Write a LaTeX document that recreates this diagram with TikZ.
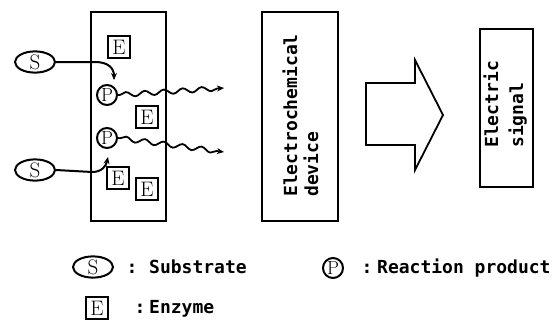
\documentclass[tikz,border=0pt]{standalone}
\usepackage{fontspec}
\newfontfamily\dotfont{DejaVu Sans Mono}
\usetikzlibrary{shapes.geometric,arrows.meta,decorations.pathmorphing}
\begin{document}
\begin{tikzpicture}[x=1pt,y=-1pt,
  box/.style={draw, line width=2.8pt, inner sep=0pt},
  lbl/.style={font=\dotfont\bfseries\fontsize{18}{22}\selectfont, inner sep=0pt},
  vlbl/.style={lbl, rotate=90, anchor=base west},
  sub/.style={draw, ellipse, line width=2pt, minimum width=40pt, minimum height=19pt, inner sep=0pt, font=\fontsize{21}{21}\selectfont},
  prod/.style={draw, circle, line width=2pt, minimum size=20pt, inner sep=0pt, font=\fontsize{19}{19}\selectfont},
  enz/.style={draw, line width=2pt, minimum size=22pt, inner sep=0pt, font=\fontsize{21}{21}\selectfont},
  conn/.style={line width=2pt, -{Stealth[length=7pt,width=6pt]}},
  wave/.style={line width=1.8pt, -{Stealth[length=7pt,width=6pt]}, decorate,
    decoration={snake, amplitude=2.4pt, segment length=19pt, post length=6pt, pre length=2pt}},
  bigarrow/.style={draw, line width=1.8pt, line join=miter}
]
\useasboundingbox (0,0) rectangle (552,322);

% boxes
\node[box, minimum width=75pt, minimum height=209pt] (cell) at (128.5,116.5) {};
\node[box, minimum width=76pt, minimum height=209pt] (dev) at (300,116.5) {};
\node[box, minimum width=53pt, minimum height=158pt] (sig) at (506.5,108) {};

% texts in boxes
\node[vlbl] (dev1) at (297,197) {Electrochemical};
\node[vlbl] (dev2) at (318,197) {device};
\node[vlbl] (sig1) at (498,148) {Electric};
\node[vlbl] (sig2) at (523,148) {signal};

% big arrow
\draw[bigarrow] (366,83) -- (415,83) -- (415,60) -- (443,115) -- (415,170)
  -- (415,145) -- (366,145) -- cycle;

% substrates, products, enzymes
\node[sub] (s1) at (35,62) {S};
\node[sub] (s2) at (35,170) {S};
\node[prod] (p1) at (107,95) {P};
\node[prod] (p2) at (107,138) {P};
\node[enz] (e1) at (119,47) {E};
\node[enz] (e2) at (147,117) {E};
\node[enz] (e3) at (118,178) {E};
\node[enz] (e4) at (147,189) {E};

\coordinate (t1) at (114,80);
\coordinate (t2) at (108,157);
\coordinate (w1) at (224,88);
\coordinate (w2) at (224,152);

\draw[conn] (s1.east) -- (95,62) .. controls (108,62) and (114,68) .. (t1);
\draw[conn] (s2.east) -- (92,172) .. controls (102,172) and (106,166) .. (t2);
\draw[wave] (p1.east) -- (w1);
\draw[wave] (p2.east) -- (w2);

% legend
\node[sub] (ls) at (93,267) {S};
\node[lbl, anchor=base] (lc1) at (132,273) {:};
\node[lbl, anchor=base west] (lt1) at (149,273) {Substrate};
\node[prod] (lp) at (333,268) {P};
\node[lbl, anchor=base] (lc2) at (367,273) {:};
\node[lbl, anchor=base west] (lt2) at (377,273) {Reaction product};
\node[enz, line width=2.4pt] (le) at (97,308) {E};
\node[lbl, anchor=base] (lc3) at (140,313) {:};
\node[lbl, anchor=base west] (lt3) at (149,313) {Enzyme};
\end{tikzpicture}
\end{document}
